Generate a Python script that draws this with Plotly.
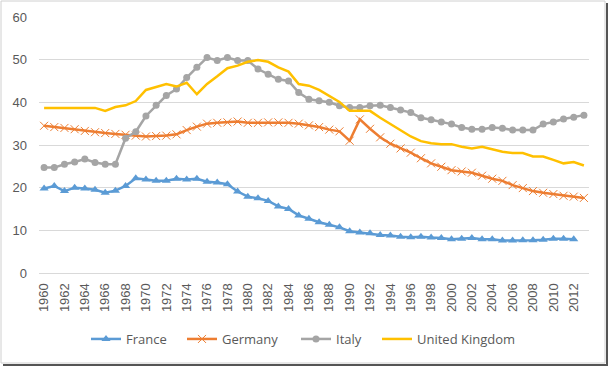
import plotly.graph_objects as go

years = list(range(1960, 2014))

france = [19.8, 20.4, 19.2, 20.0, 19.8, 19.5, 18.8, 19.3, 20.4, 22.2,
          21.9, 21.6, 21.6, 22.1, 21.9, 22.1, 21.4, 21.2, 20.8, 19.1,
          17.9, 17.5, 16.9, 15.6, 15.0, 13.5, 12.7, 11.9, 11.3, 10.7,
          9.8, 9.5, 9.3, 8.9, 8.8, 8.5, 8.4, 8.5, 8.3, 8.2,
          7.9, 8.0, 8.2, 7.9, 7.9, 7.6, 7.6, 7.7, 7.7, 7.8,
          8.0, 8.0, 7.9, None]

germany = [34.5, 34.2, 34.0, 33.7, 33.3, 33.0, 32.8, 32.6, 32.4, 32.2,
           32.0, 32.1, 32.2, 32.5, 33.5, 34.3, 35.0, 35.2, 35.3, 35.5,
           35.2, 35.2, 35.3, 35.3, 35.2, 35.0, 34.6, 34.2, 33.6, 33.2,
           31.0, 36.0, 33.8, 31.8, 30.3, 29.2, 28.2, 26.9, 25.7, 24.9,
           24.1, 23.8, 23.5, 22.8, 22.1, 21.6, 20.6, 19.9, 19.2, 18.8,
           18.5, 18.1, 17.9, 17.6]

italy = [24.7, 24.7, 25.5, 26.0, 26.7, 25.9, 25.5, 25.5, 31.6, 33.1,
         36.8, 39.3, 41.6, 43.1, 45.8, 48.2, 50.5, 49.8, 50.5, 49.8,
         49.8, 47.8, 46.6, 45.4, 45.0, 42.3, 40.7, 40.4, 40.0, 39.2,
         38.8, 38.8, 39.2, 39.3, 38.8, 38.2, 37.6, 36.4, 35.9, 35.4,
         34.9, 34.1, 33.7, 33.7, 34.1, 33.9, 33.5, 33.5, 33.5, 34.9,
         35.4, 36.1, 36.5, 37.0]

uk = [38.7, 38.7, 38.7, 38.7, 38.7, 38.7, 38.0, 38.9, 39.3, 40.3,
      42.9, 43.6, 44.3, 43.7, 44.6, 41.9, 44.3, 46.1, 48.0, 48.6,
      49.5, 49.9, 49.5, 48.2, 47.2, 44.3, 43.9, 42.9, 41.5, 40.1,
      38.0, 38.0, 38.0, 36.4, 34.9, 33.3, 32.0, 30.9, 30.4, 30.2,
      30.2, 29.6, 29.2, 29.6, 29.0, 28.4, 28.1, 28.1, 27.3, 27.3,
      26.5, 25.7, 26.0, 25.2]

tick_years = list(range(1960, 2013, 2))
tick_text = [str(y) for y in tick_years]
y_ticks = [0, 10, 20, 30, 40, 50, 60]

fig = go.Figure()
fig.add_trace(go.Scatter(x=years, y=france, name="France", mode="lines+markers",
                         legend="legend",
                         line=dict(color="#5b9bd5", width=2.5),
                         marker=dict(symbol="triangle-up", size=8, color="#5b9bd5")))
fig.add_trace(go.Scatter(x=years, y=germany, name="Germany", mode="lines+markers",
                         legend="legend2",
                         line=dict(color="#ed7d31", width=2.5),
                         marker=dict(symbol="x-thin-open", size=8,
                                     line=dict(color="#f4a06a", width=1))))
fig.add_trace(go.Scatter(x=years, y=italy, name="Italy", mode="lines+markers",
                         legend="legend3",
                         line=dict(color="#a5a5a5", width=2.5),
                         marker=dict(symbol="circle", size=7, color="#a5a5a5")))
fig.add_trace(go.Scatter(x=years, y=uk, name="United Kingdom", mode="lines",
                         legend="legend4",
                         line=dict(color="#ffc000", width=2.5)))

L, R, T, B = 39, 22, 17, 95
W, H = 611, 368
pw, ph = W - L - R, H - T - B

def px(x):
    return (x - L) / pw

def py(y):
    return (H - B - y) / ph

shapes = [
    dict(type="rect", xref="paper", yref="paper",
         x0=px(1), x1=px(605), y0=py(363), y1=py(1),
         line=dict(color="#d0d0d0", width=1), layer="below"),
    dict(type="line", xref="paper", yref="paper",
         x0=px(607), x1=px(607), y0=py(366), y1=py(3),
         line=dict(color="#555555", width=2)),
    dict(type="line", xref="paper", yref="paper",
         x0=px(3), x1=px(608), y0=py(365), y1=py(365),
         line=dict(color="#555555", width=2)),
]

def leg(start):
    return dict(orientation="h", x=px(start - 6), xanchor="left", y=py(339), yanchor="middle",
                font=dict(family="Open Sans", size=13, color="#595959"), itemwidth=30,
                bgcolor="rgba(0,0,0,0)")

fig.update_layout(
    width=W, height=H,
    margin=dict(l=L, r=R, t=T, b=B, autoexpand=False),
    paper_bgcolor="white", plot_bgcolor="white",
    font=dict(family="Liberation Sans", size=13, color="#595959"),
    showlegend=True,
    legend=leg(92), legend2=leg(188), legend3=leg(302), legend4=leg(383),
    shapes=shapes,
    xaxis=dict(range=[1959.5, 2013.5], tickmode="array", tickvals=tick_years,
               ticktext=tick_text, tickangle=-90, showgrid=False, zeroline=False,
               showline=True, linecolor="#d9d9d9", linewidth=1, ticks="",
               ticklabelstandoff=4,
               tickfont=dict(size=13, color="#595959")),
    yaxis=dict(range=[0, 60], tickmode="array", tickvals=y_ticks,
               showgrid=True, gridcolor="#d9d9d9", gridwidth=1, zeroline=False,
               showline=False, ticks="", ticklabelstandoff=11,
               tickfont=dict(size=13, color="#595959")),
)

fig.write_html("out.html", config={"displayModeBar": False},
               post_script="document.body.style.margin='0';document.body.style.overflow='hidden';")
